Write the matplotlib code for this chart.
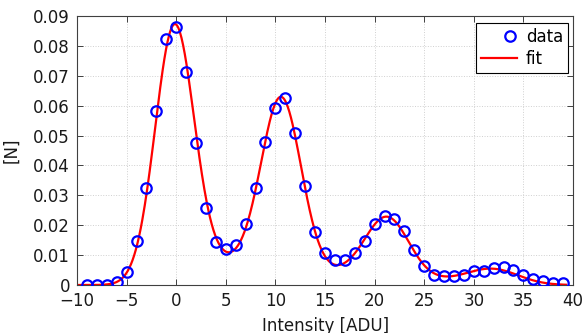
import math
import numpy as np
import matplotlib
matplotlib.use('Agg')
import matplotlib.pyplot as plt
from matplotlib.lines import Line2D
from matplotlib.legend_handler import HandlerLine2D

# measured histogram points
x_data = np.arange(-9, 40)
y_data = [0.0000, 0.0000, 0.0001, 0.0010, 0.0042, 0.0146, 0.0326, 0.0581, 0.0822, 0.0862,
          0.0714, 0.0474, 0.0257, 0.0143, 0.0122, 0.0134, 0.0205, 0.0323, 0.0479, 0.0593,
          0.0625, 0.0508, 0.0332, 0.0176, 0.0106, 0.0082, 0.0084, 0.0107, 0.0148, 0.0204,
          0.0231, 0.0222, 0.0179, 0.0117, 0.0065, 0.0034, 0.0030, 0.0030, 0.0034, 0.0047,
          0.0048, 0.0058, 0.0060, 0.0049, 0.0033, 0.0021, 0.0014, 0.0008, 0.0008]

# fit parameters (peaks + charge sharing plateau between peaks)
peak_pos = [-0.2, 10.6, 21.3, 32.0]
peak_amp = [0.0834, 0.0570, 0.0200, 0.0047]
peak_sig = [1.95, 2.0, 2.2, 2.6]
plateau = [0.0077, 0.0042, 0.0015]

xticks = [-10, -5, 0, 5, 10, 15, 20, 25, 30, 35, 40]
yticks = [0, 0.01, 0.02, 0.03, 0.04, 0.05, 0.06, 0.07, 0.08, 0.09]
ytick_labels = ['0', '0.01', '0.02', '0.03', '0.04', '0.05', '0.06', '0.07', '0.08', '0.09']

erf = np.vectorize(math.erf)

def fit_model(x):
    y = np.zeros_like(x)
    for a, m, s in zip(peak_amp, peak_pos, peak_sig):
        y += a * np.exp(-(x - m)**2 / (2 * s**2))
    for k, b in enumerate(plateau):
        m1, s1 = peak_pos[k], peak_sig[k]
        m2, s2 = peak_pos[k + 1], peak_sig[k + 1]
        y += b * 0.5 * (erf((x - m1) / (np.sqrt(2) * s1)) - erf((x - m2) / (np.sqrt(2) * s2)))
    return y


class RightMarker(HandlerLine2D):
    # matlab style legend: marker sits to the right of the handle
    def create_artists(self, legend, orig_handle, xdescent, ydescent, width, height, fontsize, trans):
        arts = super().create_artists(legend, orig_handle, xdescent, ydescent,
                                      width, height, fontsize, trans)
        x0 = -xdescent
        for a in arts:
            if a.get_marker() not in ('None', None, '') and len(a.get_xdata()) == 3:
                a.set_xdata([x0, x0 + 0.8 * width, x0 + width])
        return arts


x_fit = np.linspace(-10, 39.3, 600)
y_fit = fit_model(x_fit)

plt.rcParams['font.family'] = 'DejaVu Sans'
plt.rcParams['font.size'] = 12

fig = plt.figure(figsize=(5.84, 3.33), dpi=100)
ax = fig.add_axes([77/584, 1 - 285/333, 496/584, 269/333])

ax.plot(x_data, y_data, 'o', mfc='none', mec='#0000ff', ms=7.5, mew=1.6, label='data', zorder=3)
ax.plot(x_fit, y_fit, '-', color='#ff0000', lw=1.6, label='fit', zorder=2)

ax.set_xlim(-10, 40)
ax.set_ylim(0, 0.09)
ax.set_xticks(xticks)
ax.set_yticks(yticks)
ax.set_yticklabels(ytick_labels)
ax.grid(True, color='#d0d0d0', linestyle=':', linewidth=0.7)
ax.tick_params(direction='in', top=True, right=True, length=4, width=0.7,
               color='#404040', labelcolor='#1a1a1a', labelsize=12, pad=5)
for s in ax.spines.values():
    s.set_color('#404040')
    s.set_linewidth(0.8)

ax.set_xlabel('Intensity [ADU]', fontsize=12, color='#1a1a1a')
ax.xaxis.set_label_coords(0.502, -0.118)
ax.set_ylabel('[N]', fontsize=12, color='#1a1a1a')
ax.yaxis.set_label_coords(-0.115, 0.5)

leg = ax.legend(loc='upper right', bbox_to_anchor=((568 - 77) / 496, (285 - 23) / 269),
                borderaxespad=0, fancybox=False, framealpha=1, edgecolor='black',
                fontsize=12, numpoints=1, handlelength=2.2, handletextpad=0.5,
                borderpad=0.3, labelspacing=0.25,
                handler_map={Line2D: RightMarker(numpoints=1)})
leg.get_frame().set_linewidth(0.8)

plt.savefig('out.png', dpi=100)
